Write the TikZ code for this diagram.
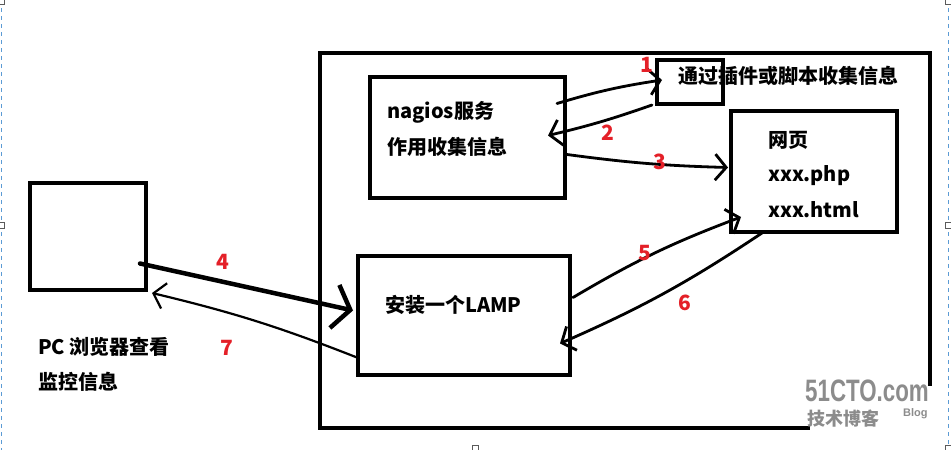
\documentclass[tikz,border=0pt]{standalone}
\usepackage{fontspec}
\newfontfamily\cjk{Noto Sans CJK SC}
\setsansfont{Liberation Sans}
\usetikzlibrary{arrows.meta,calc}
\definecolor{FlowInk}{RGB}{0,0,0}
\definecolor{FlowRed}{RGB}{228,32,40}
\definecolor{FlowFrame}{RGB}{91,155,213}
\definecolor{FlowMark}{RGB}{140,140,140}
\definecolor{FlowHandle}{RGB}{90,90,90}
\tikzset{
  flow/box/.style={
    draw=FlowInk,
    line width=4.5pt,
    inner sep=0pt,
    outer sep=0pt
  },
  flow/label/.style={
    font={\cjk\bfseries\fontsize{20}{24}\selectfont},
    text=FlowInk,
    anchor=west,
    inner sep=0pt
  },
  flow/num/.style={
    font={\cjk\bfseries\fontsize{21}{24}\selectfont},
    text=FlowRed,
    inner sep=0pt
  },
  flow/hand/.style={-{Straight Barb[length=11pt,width=26pt]}, line width=2.8pt, line cap=round, draw=FlowInk},
  flow/heavy/.style={-{Straight Barb[length=16pt,width=44pt]}, line width=4.5pt, line cap=round, draw=FlowInk},
  flow/mark/.style={text=FlowMark, inner sep=0pt}
}

\begin{document}
\begin{tikzpicture}[x=1pt,y=-1pt]
  \useasboundingbox (0,0) rectangle (951,450);
  \draw[FlowFrame, line width=1.5pt, dash pattern=on 4pt off 4pt] (1.5,0) -- (1.5,450);
  \draw[FlowFrame, line width=1.5pt, dash pattern=on 4pt off 4pt] (948.5,0) -- (948.5,450);
  \foreach \hx/\hy in {1/1,1/225,475/448,948/448,948/225,948/1}{
    \draw[FlowHandle, line width=0.8pt, fill=white] (\hx-3,\hy-3) rectangle (\hx+3,\hy+3);
  }

  \node[flow/box, minimum width=610pt, minimum height=375pt] (server) at (625,240.5) {};
  \node[flow/box, minimum width=195pt, minimum height=121pt] (nagios) at (467.5,137.5) {};
  \node[flow/box, minimum width=66pt, minimum height=44pt] (plug) at (690,82) {};
  \node[flow/box, minimum width=166pt, minimum height=121pt] (web) at (814,171.5) {};
  \node[flow/box, minimum width=116pt, minimum height=107pt] (pc) at (88,236.5) {};
  \node[flow/box, minimum width=212pt, minimum height=119pt] (lamp) at (464,315.5) {};

  \node[flow/label] (nagiosA) at (387,112) {nagios服务};
  \node[flow/label] (nagiosB) at (387,147) {作用收集信息};
  \node[flow/label] (plugtxt) at (678,76) {通过插件或脚本收集信息};
  \node[flow/label] (webA) at (768,140) {网页};
  \node[flow/label] (webB) at (768,176) {xxx.php};
  \node[flow/label] (webC) at (768,210) {xxx.html};
  \node[flow/label] (lamptxt) at (385,305) {安装一个LAMP};
  \node[flow/label] (pcA) at (38,347) {PC 浏览器查看};
  \node[flow/label] (pcB) at (38,382) {监控信息};

  \draw[flow/hand] ($(nagios.east)+(-8,-34)$) to[bend left=4] ($(plug.west)+(5,-2)$);
  \draw[flow/hand] ($(plug.south west)+(-5,1)$) to[bend left=3] ($(nagios.east)+(-17,-2)$);
  \draw[flow/hand] ($(nagios.east)+(2,17)$) to[bend right=3] ($(web.west)+(-3,-4)$);
  \draw[flow/heavy] ($(pc.east)+(-6,27)$) -- ($(lamp.west)+(-5,-5)$);
  \draw[flow/hand, line width=2.2pt] ($(lamp.west)+(-1,42)$) to[bend right=4] ($(pc.south east)+(6,3)$);
  \draw[flow/hand] ($(lamp.east)+(3,-18)$) to[bend left=5] ($(web.south west)+(10,-15)$);
  \draw[flow/hand] ($(web.south)+(-52,1)$) to[bend left=5] ($(lamp.east)+(-10,28)$);

  \node[flow/num] (n1) at (647,65) {1};
  \node[flow/num] (n2) at (608,133) {2};
  \node[flow/num] (n3) at (660,162) {3};
  \node[flow/num] (n4) at (223,262) {4};
  \node[flow/num] (n5) at (645,253) {5};
  \node[flow/num] (n6) at (685,303) {6};
  \node[flow/num] (n7) at (227,348) {7};

  \fill[white] (810,386) rectangle (936,433);
  \node[flow/mark, font={\sffamily\bfseries\fontsize{31}{31}\selectfont}, xscale=0.72] (logo) at (867,391) {51CTO.com};
  \node[flow/mark, font={\cjk\bfseries\fontsize{18}{18}\selectfont}, anchor=west] (blogA) at (807,419) {技术博客};
  \node[flow/mark, font={\sffamily\bfseries\fontsize{11}{11}\selectfont}, anchor=west] (blogB) at (903,414) {Blog};
\end{tikzpicture}
\end{document}
